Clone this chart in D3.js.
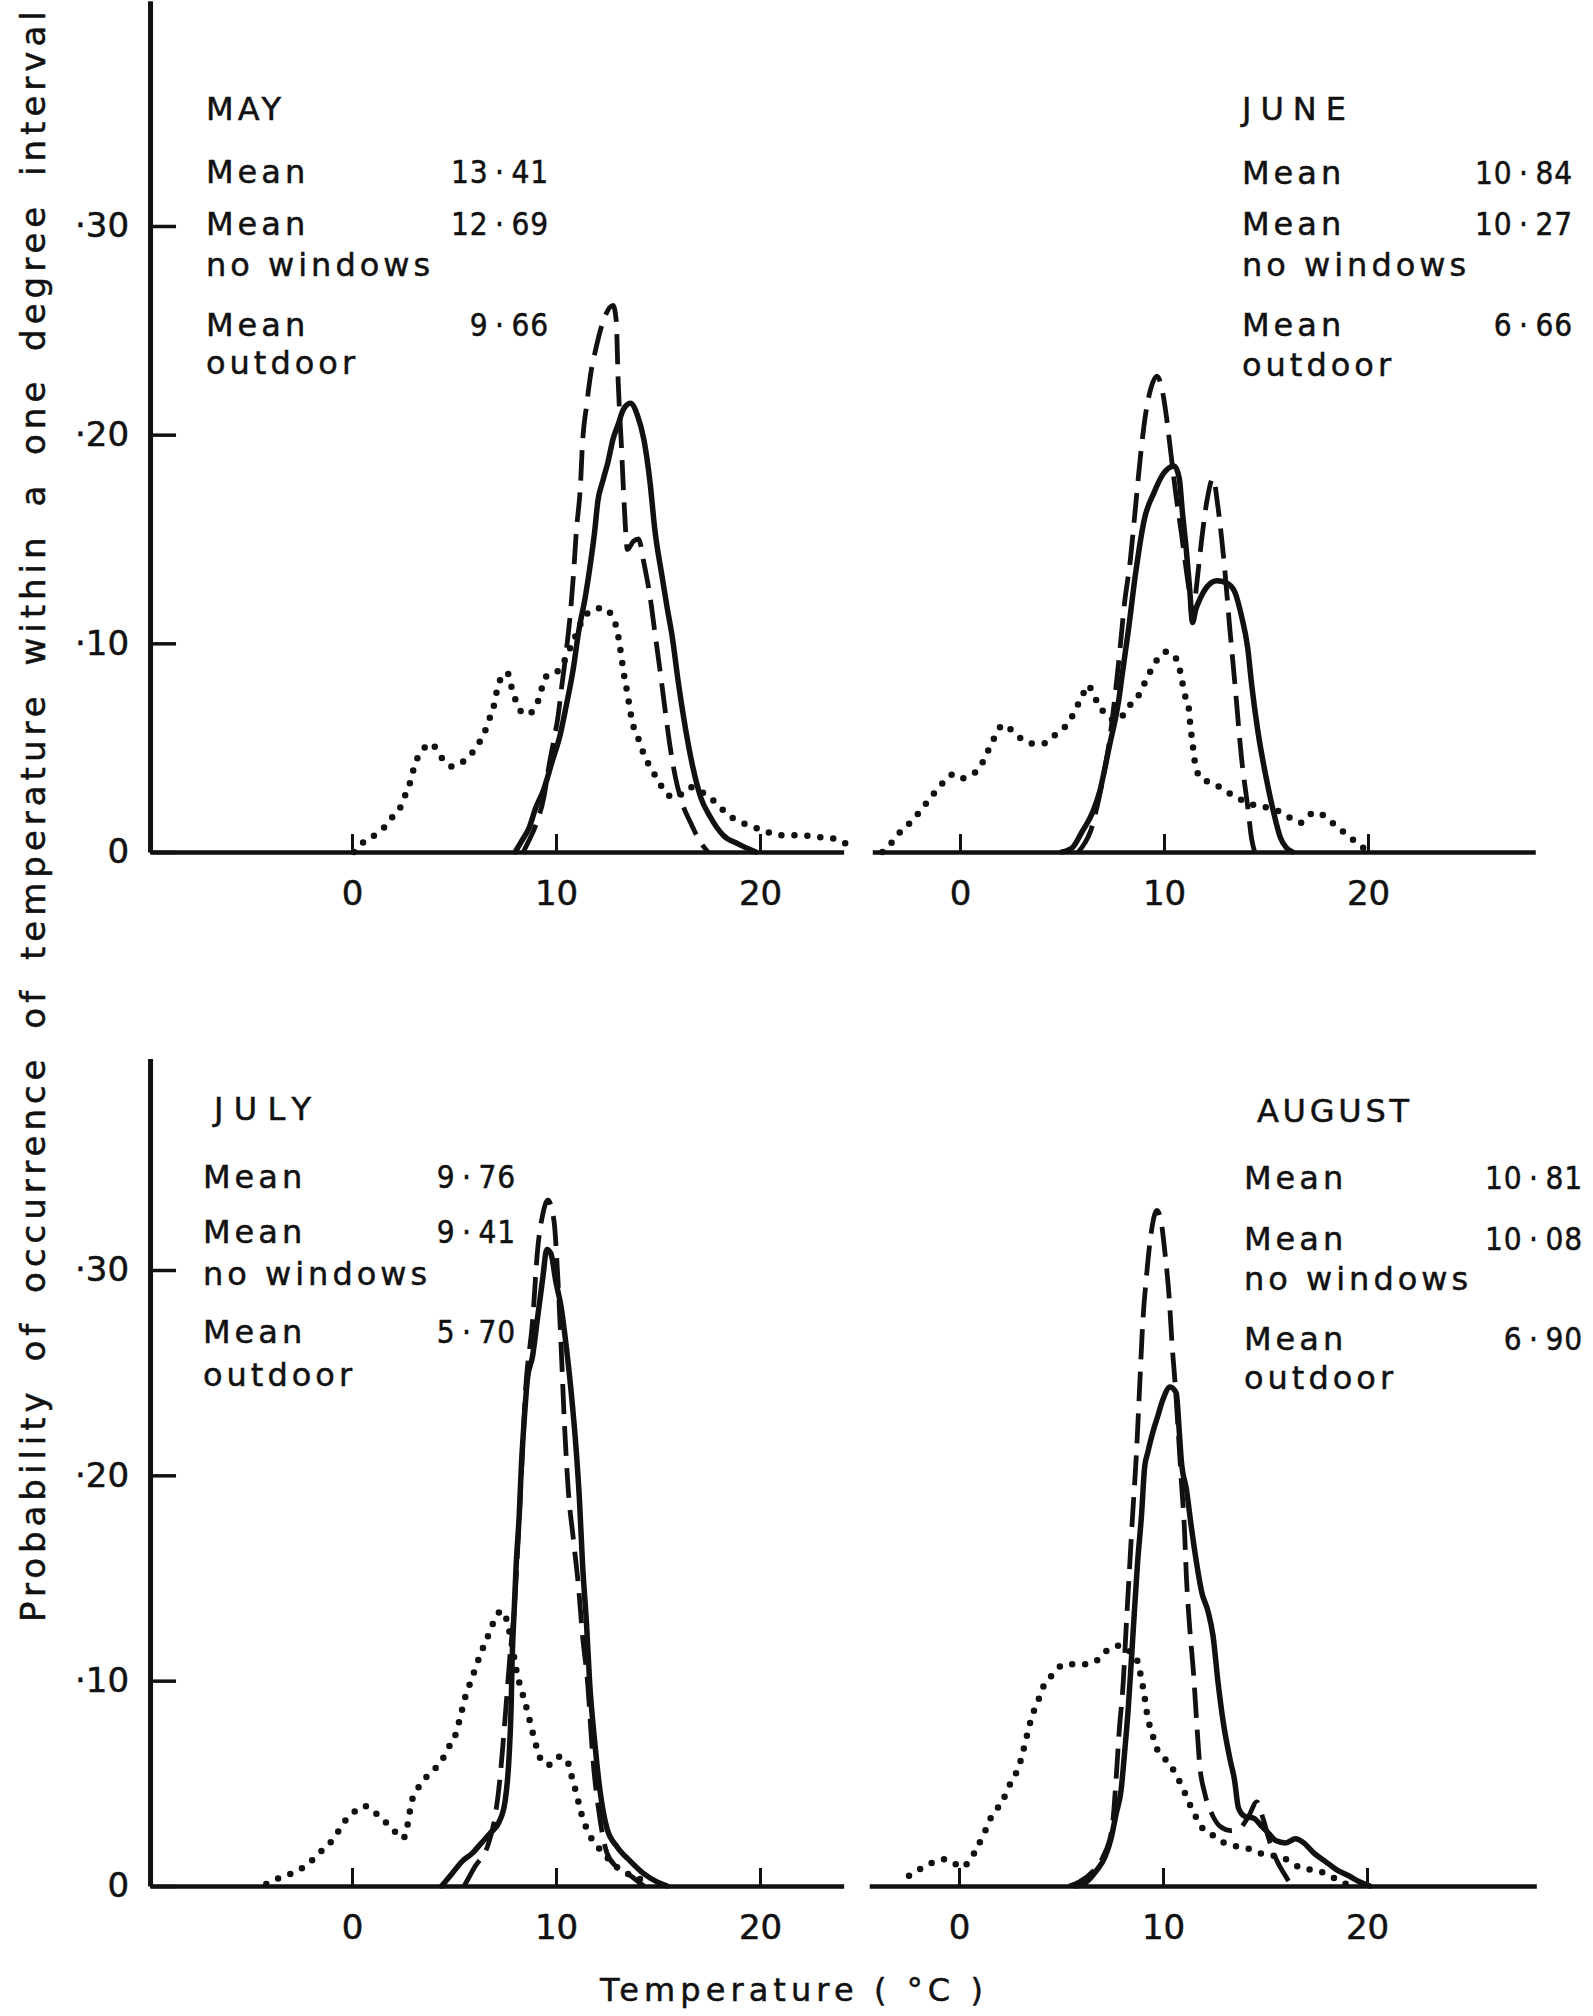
<!DOCTYPE html>
<html>
<head>
<meta charset="utf-8">
<script src="https://cdn.jsdelivr.net/npm/d3@7"></script>
<style>
  body { margin: 0; background: #fff; }
  svg { display: block; font-family: "DejaVu Sans", sans-serif; }
  text { stroke: #111; stroke-width: 0.5px; }
  .title { font-size: 32px; }
  .lbl { font-size: 32px; letter-spacing: 4px; }
  .val { font-size: 32px; letter-spacing: 1px; }
</style>
</head>
<body>
<svg id="chart" width="1593" height="2016"></svg>
<script>
// month panels and their legend numbers
var months = ["MAY", "JUNE", "JULY", "AUGUST"];
var meanAll = ["13\u2009·\u200941", "10\u2009·\u200984", "9\u2009·\u200976", "10\u2009·\u200981"];
var meanNoWindows = ["12\u2009·\u200969", "10\u2009·\u200927", "9\u2009·\u200941", "10\u2009·\u200908"];
var meanOutdoor = ["9\u2009·\u200966", "6\u2009·\u200966", "5\u2009·\u200970", "6\u2009·\u200990"];
var xTicks = [0, 10, 20];
var yTicks = [0, 0.10, 0.20, 0.30];

// [temperature, probability]
var maySolid = [[8.0,0],[8.3,0.005],[8.7,0.012],[9.0,0.021],[9.4,0.030],[9.8,0.043],[10.2,0.056],[10.5,0.070],[10.85,0.088],[11.1,0.105],[11.45,0.123],[11.7,0.139],[11.9,0.154],[12.05,0.168],[12.3,0.178],[12.55,0.187],[12.8,0.198],[13.05,0.205],[13.3,0.212],[13.65,0.215],[14.0,0.209],[14.3,0.198],[14.6,0.178],[14.85,0.154],[15.2,0.132],[15.45,0.117],[15.7,0.103],[16.0,0.081],[16.35,0.059],[16.7,0.041],[17.1,0.026],[17.55,0.017],[18.2,0.008],[18.9,0.004],[19.8,0]];
var mayDashed = [[8.4,0],[8.65,0.005],[9.05,0.014],[9.4,0.026],[9.65,0.041],[9.9,0.054],[10.1,0.065],[10.25,0.077],[10.5,0.096],[10.7,0.114],[10.85,0.132],[11.0,0.154],[11.2,0.176],[11.3,0.196],[11.5,0.214],[11.7,0.229],[11.95,0.241],[12.3,0.254],[12.8,0.262],[12.95,0.255],[13.05,0.225],[13.2,0.196],[13.35,0.165],[13.5,0.145],[13.8,0.149],[14.05,0.150],[14.3,0.139],[14.6,0.123],[14.85,0.105],[15.1,0.087],[15.35,0.068],[15.6,0.050],[15.85,0.036],[16.2,0.023],[16.6,0.014],[17.0,0.006],[17.45,0]];
var mayDotted = [[0.1,0],[0.6,0.005],[1.1,0.008],[1.6,0.012],[2.0,0.017],[2.4,0.022],[2.6,0.027],[2.9,0.035],[3.05,0.041],[3.4,0.048],[3.9,0.052],[4.25,0.047],[4.5,0.044],[4.9,0.041],[5.4,0.043],[5.85,0.047],[6.2,0.052],[6.45,0.056],[6.7,0.063],[6.9,0.068],[7.2,0.081],[7.6,0.086],[7.9,0.076],[8.15,0.070],[8.4,0.066],[8.8,0.067],[9.15,0.073],[9.5,0.084],[9.85,0.085],[10.2,0.088],[10.8,0.100],[11.5,0.114],[12.3,0.117],[12.8,0.112],[13.0,0.106],[13.2,0.094],[13.3,0.087],[13.5,0.076],[13.65,0.067],[13.8,0.060],[14.05,0.054],[14.3,0.047],[14.6,0.041],[14.9,0.036],[15.35,0.029],[15.75,0.026],[16.2,0.028],[16.6,0.031],[17.4,0.027],[17.9,0.023],[18.4,0.018],[18.9,0.015],[19.4,0.013],[20.25,0.010],[20.9,0.008],[21.8,0.008],[23.0,0.007],[23.8,0.006],[24.2,0.004]];

var juneSolid = [[5.0,0],[5.5,0.002],[6.0,0.010],[6.5,0.019],[6.85,0.029],[7.1,0.040],[7.35,0.052],[7.6,0.063],[7.8,0.074],[7.95,0.085],[8.25,0.106],[8.6,0.133],[9.05,0.160],[9.5,0.172],[9.95,0.181],[10.5,0.185],[10.75,0.179],[10.9,0.163],[11.1,0.144],[11.25,0.127],[11.4,0.110],[11.55,0.116],[11.8,0.122],[12.1,0.127],[12.6,0.130],[13.05,0.129],[13.45,0.125],[13.8,0.113],[14.1,0.098],[14.3,0.080],[14.6,0.058],[15.0,0.036],[15.35,0.020],[15.7,0.007],[16.0,0.002],[16.3,0]];
var juneDashed = [[5.8,0],[6.1,0.004],[6.4,0.010],[6.75,0.023],[7.1,0.040],[7.35,0.055],[7.6,0.075],[7.85,0.098],[8.05,0.118],[8.35,0.140],[8.6,0.165],[8.85,0.190],[9.1,0.210],[9.35,0.222],[9.65,0.228],[9.9,0.222],[10.1,0.210],[10.35,0.190],[10.6,0.170],[10.85,0.153],[11.05,0.138],[11.25,0.124],[11.4,0.112],[11.6,0.128],[11.85,0.150],[12.1,0.168],[12.4,0.179],[12.65,0.165],[12.85,0.148],[13.0,0.133],[13.2,0.110],[13.5,0.078],[13.8,0.045],[14.1,0.022],[14.3,0.006],[14.45,0]];
var juneDotted = [[-3.8,0],[-3.3,0.005],[-2.9,0.010],[-2.45,0.014],[-2.0,0.019],[-1.6,0.024],[-1.2,0.029],[-0.85,0.033],[-0.4,0.037],[0,0.035],[0.5,0.037],[0.95,0.040],[1.25,0.046],[1.5,0.051],[1.8,0.057],[2.1,0.061],[2.45,0.059],[2.9,0.055],[3.5,0.052],[4.1,0.052],[4.65,0.056],[5.15,0.060],[5.5,0.065],[6.0,0.075],[6.3,0.080],[6.5,0.076],[6.85,0.070],[7.2,0.065],[7.7,0.063],[8.3,0.070],[8.75,0.075],[9.05,0.081],[9.3,0.086],[9.65,0.092],[10.1,0.096],[10.4,0.095],[10.7,0.090],[10.85,0.084],[11.0,0.076],[11.2,0.070],[11.3,0.060],[11.4,0.052],[11.55,0.041],[11.85,0.035],[12.4,0.033],[12.9,0.030],[13.4,0.027],[14.0,0.024],[14.6,0.022],[15.2,0.021],[15.75,0.019],[16.25,0.016],[16.7,0.014],[17.0,0.017],[17.5,0.019],[18.0,0.016],[18.5,0.012],[19.0,0.008],[19.5,0.004],[19.9,0.001]];

var julySolid = [[4.4,0],[4.9,0.006],[5.4,0.012],[5.9,0.016],[6.35,0.021],[6.8,0.026],[7.2,0.031],[7.5,0.041],[7.7,0.063],[7.8,0.087],[7.85,0.110],[7.95,0.134],[8.05,0.157],[8.2,0.181],[8.3,0.204],[8.45,0.228],[8.6,0.247],[8.85,0.258],[9.1,0.277],[9.35,0.296],[9.55,0.310],[9.75,0.308],[10.0,0.294],[10.25,0.282],[10.5,0.263],[10.75,0.240],[11.0,0.211],[11.15,0.188],[11.3,0.157],[11.5,0.127],[11.65,0.099],[11.9,0.070],[12.15,0.047],[12.5,0.028],[13.0,0.019],[13.65,0.012],[14.3,0.006],[14.95,0.002],[15.45,0]];
var julyDashed = [[5.5,0],[6.0,0.009],[6.7,0.021],[7.0,0.033],[7.25,0.052],[7.45,0.075],[7.6,0.094],[7.75,0.113],[7.95,0.134],[8.1,0.160],[8.3,0.200],[8.5,0.240],[8.85,0.275],[9.1,0.310],[9.35,0.327],[9.6,0.334],[9.9,0.324],[10.08,0.298],[10.25,0.263],[10.4,0.228],[10.6,0.193],[10.85,0.169],[11.1,0.146],[11.3,0.122],[11.55,0.099],[11.8,0.063],[12.15,0.033],[12.5,0.016],[13.0,0.009],[13.65,0.005],[14.3,0]];
var julyDotted = [[-4.2,0.001],[-3.55,0.004],[-3.0,0.006],[-2.4,0.009],[-1.9,0.013],[-1.4,0.018],[-0.9,0.023],[-0.4,0.031],[0.1,0.036],[0.6,0.039],[1.1,0.036],[1.55,0.032],[2.05,0.027],[2.5,0.023],[2.75,0.031],[2.9,0.040],[3.2,0.047],[3.55,0.052],[3.95,0.056],[4.4,0.061],[4.7,0.067],[5.05,0.073],[5.3,0.082],[5.55,0.092],[5.8,0.099],[6.05,0.106],[6.3,0.113],[6.55,0.119],[6.8,0.125],[7.0,0.130],[7.35,0.134],[7.6,0.129],[7.85,0.117],[8.1,0.103],[8.35,0.094],[8.6,0.085],[8.85,0.075],[9.1,0.066],[9.35,0.060],[9.65,0.059],[10.1,0.063],[10.5,0.062],[10.75,0.054],[11.0,0.045],[11.25,0.035],[11.5,0.028],[11.75,0.023],[12.05,0.019],[12.5,0.014],[13.0,0.009],[13.5,0.006],[14.0,0.004],[14.5,0.001]];

var augSolid = [[5.75,0],[6.25,0.002],[6.7,0.007],[7.15,0.014],[7.45,0.023],[7.7,0.035],[7.95,0.047],[8.1,0.063],[8.3,0.087],[8.45,0.110],[8.6,0.134],[8.75,0.157],[8.95,0.181],[9.1,0.204],[9.25,0.211],[9.5,0.221],[9.75,0.229],[10.0,0.237],[10.35,0.243],[10.65,0.240],[10.8,0.221],[10.9,0.207],[11.15,0.193],[11.4,0.174],[11.65,0.157],[11.9,0.143],[12.2,0.134],[12.45,0.122],[12.7,0.099],[12.95,0.080],[13.3,0.061],[13.5,0.052],[13.7,0.038],[14.0,0.034],[14.45,0.033],[14.85,0.029],[15.15,0.026],[15.55,0.022],[16.0,0.021],[16.5,0.023],[16.9,0.021],[17.4,0.016],[17.95,0.012],[18.5,0.008],[19.1,0.005],[19.65,0.002],[20.15,0]];
var augDashed = [[5.4,0],[5.9,0.002],[6.55,0.007],[7.05,0.014],[7.5,0.028],[7.7,0.052],[7.85,0.075],[8.05,0.099],[8.2,0.127],[8.35,0.153],[8.5,0.179],[8.7,0.211],[8.85,0.242],[9.0,0.273],[9.2,0.298],[9.45,0.320],[9.7,0.329],[9.9,0.324],[10.1,0.308],[10.3,0.287],[10.45,0.263],[10.6,0.244],[10.75,0.221],[10.9,0.197],[11.05,0.174],[11.15,0.150],[11.3,0.127],[11.5,0.103],[11.65,0.080],[11.8,0.059],[12.05,0.045],[12.4,0.035],[12.8,0.029],[13.3,0.027],[13.75,0.028],[14.2,0.034],[14.6,0.041],[14.9,0.033],[15.25,0.021],[15.55,0.013],[16.0,0.005],[16.3,0]];
var augDotted = [[-2.45,0.005],[-1.95,0.008],[-1.4,0.011],[-0.8,0.013],[-0.35,0.012],[0.1,0.009],[0.5,0.012],[0.9,0.019],[1.25,0.026],[1.55,0.033],[1.9,0.038],[2.15,0.042],[2.4,0.047],[2.6,0.052],[2.85,0.056],[3.05,0.062],[3.2,0.068],[3.35,0.074],[3.5,0.080],[3.7,0.086],[3.85,0.089],[4.0,0.094],[4.25,0.099],[4.5,0.102],[4.85,0.106],[5.15,0.108],[5.65,0.108],[6.15,0.108],[6.65,0.109],[7.05,0.113],[7.45,0.116],[7.8,0.117],[8.2,0.115],[8.6,0.113],[8.9,0.103],[9.1,0.092],[9.25,0.082],[9.45,0.075],[9.65,0.068],[10.0,0.063],[10.35,0.059],[10.65,0.054],[11.0,0.047],[11.3,0.040],[11.65,0.033],[11.95,0.028],[12.4,0.025],[12.8,0.022],[13.3,0.020],[13.75,0.019],[14.25,0.018],[14.75,0.016],[15.25,0.015],[15.75,0.014],[16.25,0.012],[16.7,0.009],[17.2,0.008],[17.7,0.007],[18.2,0.005],[18.7,0.002],[19.2,0.0005]];

var ink = "#111";
var svg = d3.select("#chart");

// layout of the four panels (pixels)
var panels = [
  {m: 0, x0: 352, xDom: [-9.9, 24.1], base: 852, y30: 226, yMax: 0.408, yAxis: true,
   tx: 206, tw: 75, lx: 206, vr: 549, rows: [120, 183, 235, 276, 336, 374], data: [mayDotted, mayDashed, maySolid]},
  {m: 1, x0: 960, xDom: [-4.3, 28.2], base: 852, y30: 226, yMax: 0.408, yAxis: false,
   tx: 1242, tw: 104, lx: 1242, vr: 1573, rows: [120, 184, 235, 276, 336, 376], data: [juneDotted, juneDashed, juneSolid]},
  {m: 2, x0: 352, xDom: [-9.9, 24.1], base: 1886, y30: 1270, yMax: 0.403, yAxis: true,
   tx: 214, tw: 97, lx: 203, vr: 516, rows: [1120, 1188, 1243, 1285, 1343, 1386], data: [julyDotted, julyDashed, julySolid]},
  {m: 3, x0: 959, xDom: [-4.4, 28.3], base: 1886, y30: 1270, yMax: 0.403, yAxis: false,
   tx: 1257, tw: 152, lx: 1244, vr: 1583, rows: [1122, 1189, 1250, 1290, 1350, 1389], data: [augDotted, augDashed, augSolid]}
];

var styles = [
  {w: 6.5, dash: "0 13", cap: "round"},  // outdoor
  {w: 4.8, dash: "30 12", cap: "butt"},  // no windows
  {w: 5.5, dash: null, cap: "round"}     // mean
];

panels.forEach(function(p) {
  var base = d3.scaleLinear().domain([0, 20]).range([p.x0, p.x0 + 408]);
  var x = base.copy().domain(p.xDom).range(p.xDom.map(base));
  var yb = d3.scaleLinear().domain([0, 0.3]).range([p.base, p.y30]);
  var y = yb.copy().domain([0, p.yMax]).range([p.base, yb(p.yMax)]);

  var line = d3.line()
    .x(function(d) { return x(d[0]); })
    .y(function(d) { return y(d[1]); })
    .curve(d3.curveMonotoneX);

  // x axis
  var gx = svg.append("g")
    .attr("transform", "translate(0," + p.base + ")")
    .attr("color", ink)
    .call(d3.axisBottom(x).tickValues(xTicks).tickSizeInner(-18).tickSizeOuter(0).tickPadding(29));
  gx.select(".domain").attr("stroke-width", 4.5);
  gx.selectAll(".tick line").attr("stroke-width", 3);
  gx.selectAll("text").attr("font-size", 34).attr("font-family", "DejaVu Sans, sans-serif");

  if (p.yAxis) {
    var gy = svg.append("g")
      .attr("transform", "translate(" + x(p.xDom[0]) + ",0)")
      .attr("color", ink)
      .call(d3.axisLeft(y).tickValues(yTicks).tickSizeInner(-26).tickSizeOuter(0).tickPadding(21)
        .tickFormat(function(d) { return d === 0 ? "0" : "·" + Math.round(d * 100); }));
    gy.select(".domain").attr("stroke-width", 5);
    gy.selectAll(".tick line").attr("stroke-width", 3.5);
    gy.selectAll("text").attr("font-size", 34).attr("font-family", "DejaVu Sans, sans-serif");
  }

  // curves
  p.data.forEach(function(series, k) {
    var s = styles[k];
    svg.append("path")
      .datum(series)
      .attr("d", line)
      .attr("fill", "none")
      .attr("stroke", ink)
      .attr("stroke-width", s.w)
      .attr("stroke-linecap", s.cap)
      .attr("stroke-linejoin", "round")
      .attr("stroke-dasharray", s.dash);
  });

  // legend text block
  var g = svg.append("g").attr("fill", ink);
  g.append("text").attr("class", "title").attr("x", p.tx).attr("y", p.rows[0])
    .attr("textLength", p.tw).attr("lengthAdjust", "spacing")
    .text(months[p.m]);
  var labels = ["Mean", "Mean", "no windows", "Mean", "outdoor"];
  labels.forEach(function(t, j) {
    g.append("text").attr("class", "lbl").attr("x", p.lx).attr("y", p.rows[j + 1]).text(t);
  });
  // the figures are set in narrower digits
  [[1, meanAll], [2, meanNoWindows], [4, meanOutdoor]].forEach(function(v) {
    g.append("text").attr("class", "val").attr("text-anchor", "end")
      .attr("transform", "translate(" + p.vr + "," + p.rows[v[0]] + ") scale(0.88,1)")
      .text(v[1][p.m]);
  });
});

// axis titles
svg.append("text")
  .attr("x", 600).attr("y", 2001)
  .attr("font-size", 32).attr("fill", ink)
  .attr("textLength", 383).attr("lengthAdjust", "spacing")
  .text("Temperature ( °C )");

svg.append("text")
  .attr("transform", "translate(45,1622) rotate(-90)")
  .attr("font-size", 34).attr("fill", ink)
  .attr("letter-spacing", 5).attr("word-spacing", 10)
  .text("Probability of occurrence of temperature within a one degree interval");
</script>
</body>
</html>
